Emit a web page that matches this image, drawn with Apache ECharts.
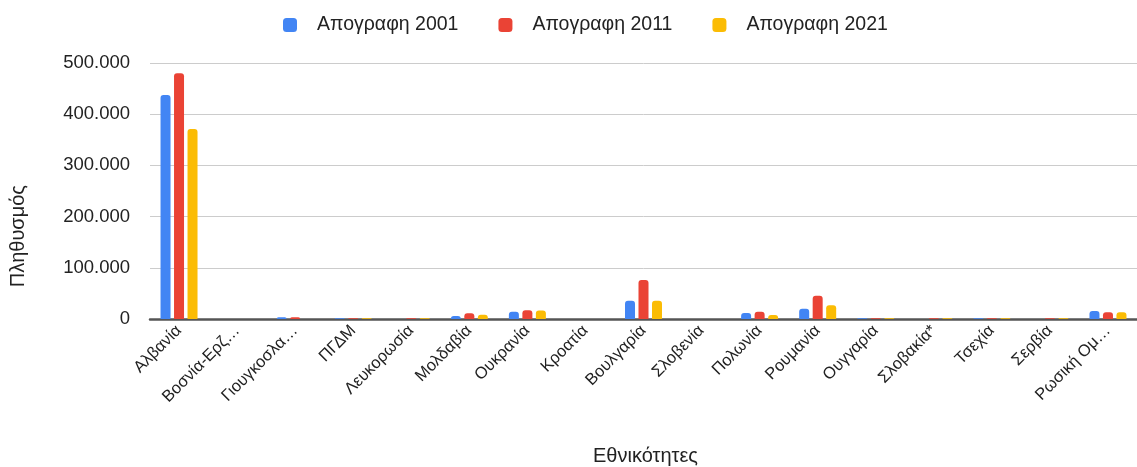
<!DOCTYPE html>
<html>
<head>
<meta charset="utf-8">
<script src="https://cdn.jsdelivr.net/npm/echarts@6/dist/echarts.min.js"></script>
<style>
  html, body { margin: 0; padding: 0; background: #fff; }
  #chart { width: 1137px; height: 467px; }
</style>
</head>
<body>
<div id="chart"></div>
<script>
var categories = ["Αλβανία", "Βοσνία-Ερζ…", "Γιουγκοσλα…", "ΠΓΔΜ", "Λευκορωσία", "Μολδαβία",
  "Ουκρανία", "Κροατία", "Βουλγαρία", "Σλοβενία", "Πολωνία", "Ρουμανία", "Ουγγαρία",
  "Σλοβακία*", "Τσεχία", "Σερβία", "Ρωσική Ομ…"];
var seriesNames = ["Απογραφη 2001", "Απογραφη 2011", "Απογραφη 2021"];
var census2001 = [437500, 0, 3500, 1500, 0, 5900, 14000, 0, 35500, 0, 11500, 20000, 1500, 0, 1500, 0, 15500];
var census2011 = [480000, 0, 3300, 1500, 1500, 11000, 17000, 0, 76000, 0, 14000, 45500, 1500, 1500, 1500, 1500, 13000];
var census2021 = [371000, 0, 0, 1500, 1500, 8400, 16500, 0, 35500, 0, 8000, 27000, 1500, 1500, 1500, 1500, 13000];
var yTicks = [0, 100000, 200000, 300000, 400000, 500000];

var colors = ["#4285F4", "#EA4335", "#FBBC04"];
var font = "Arial, 'Liberation Sans', sans-serif";

function fmt(v) {
  return String(v).replace(/\B(?=(\d{3})+(?!\d))/g, ".");
}

var chart = echarts.init(document.getElementById("chart"));

function bar(name, data) {
  return {
    name: name,
    type: "bar",
    data: data,
    barWidth: 10,
    barGap: "35%",
    itemStyle: { borderRadius: [3, 3, 0, 0] }
  };
}

chart.setOption({
  backgroundColor: "#fff",
  color: colors,
  animation: false,
  textStyle: { fontFamily: font },
  legend: {
    top: 10,
    left: 278,
    icon: "roundRect",
    itemWidth: 14,
    itemHeight: 14,
    itemGap: 40,
    textStyle: { fontSize: 19.5, color: "#222", fontFamily: font, padding: [0, 0, 0, 15] },
    data: seriesNames
  },
  grid: { left: 150, right: -4, top: 63, bottom: 148 },
  xAxis: {
    type: "category",
    data: categories,
    axisTick: { show: false },
    axisLine: { lineStyle: { color: "#555", width: 2.5 } },
    axisLabel: {
      rotate: 45,
      interval: 0,
      fontSize: 16.5,
      color: "#222",
      margin: 9,
      fontFamily: font
    }
  },
  yAxis: {
    type: "value",
    min: yTicks[0],
    max: yTicks[yTicks.length - 1],
    interval: 100000,
    axisLine: { show: false },
    axisTick: { show: false },
    splitLine: { lineStyle: { color: "#ccc" } },
    axisLabel: {
      fontSize: 18.5,
      color: "#222",
      margin: 20,
      fontFamily: font,
      formatter: fmt
    }
  },
  graphic: [
    {
      type: "text",
      left: 8,
      top: 185,
      rotation: Math.PI / 2,
      style: { text: "Πληθυσμός", fontSize: 20, fill: "#222", fontFamily: font }
    },
    {
      type: "text",
      left: 593,
      top: 446,
      style: { text: "Εθνικότητες", fontSize: 20, fill: "#222", fontFamily: font }
    }
  ],
  series: [
    bar(seriesNames[0], census2001),
    bar(seriesNames[1], census2011),
    bar(seriesNames[2], census2021)
  ]
});
</script>
</body>
</html>
